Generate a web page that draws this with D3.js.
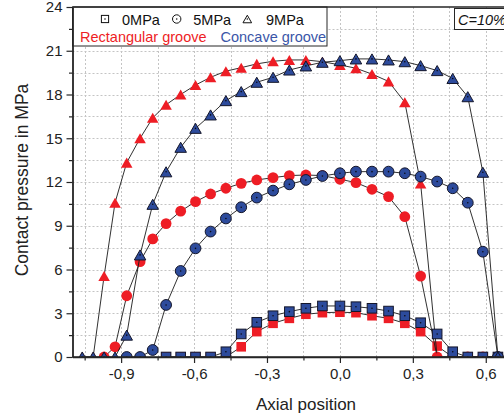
<!DOCTYPE html>
<html><head><meta charset="utf-8">
<script src="https://cdn.jsdelivr.net/npm/d3@7"></script>
<style>body{margin:0;background:#fff}svg{display:block;font-family:"Liberation Sans",Arial,sans-serif}</style>
</head><body><svg id="c" width="504" height="416"></svg>
<script>
const xPos = [-1.06,-1.015,-0.97,-0.925,-0.877,-0.822,-0.77,-0.715,-0.655,-0.594,-0.532,-0.469,-0.406,-0.342,-0.275,-0.208,-0.14,-0.072,0,0.066,0.132,0.2,0.267,0.332,0.4,0.464,0.526,0.588,0.65];
const rect0 = [null,null,null,null,null,null,null,0,0,0,0,0,0.7,1.74,2.31,2.65,2.93,3.04,3.07,3.04,2.83,2.65,2.31,1.74,0.75,0,0,0,0];
const rect5 = [null,null,0,0.7,4.2,6.54,8.1,9.15,10.0,10.65,11.18,11.57,11.91,12.14,12.3,12.44,12.48,12.44,12.19,11.96,11.5,11.0,9.62,5.55,0,0,0,0,0];
const rect9 = [0,0,5.55,10.58,13.33,15.0,16.4,17.3,18.0,18.65,19.18,19.6,19.84,20.1,20.28,20.37,20.37,20.25,20.03,19.8,19.4,18.9,17.47,11.9,0,0,0,0,0];
const conc0 = [null,null,null,null,null,null,null,0,0,0,0,0.36,1.58,2.38,2.83,3.11,3.34,3.5,3.5,3.45,3.34,3.15,2.83,2.35,1.58,0.36,0,0,0];
const conc5 = [null,null,null,null,0,0,0.48,3.57,5.9,7.45,8.6,9.5,10.27,10.93,11.41,11.84,12.14,12.41,12.6,12.71,12.71,12.71,12.6,12.37,12.03,11.57,10.58,7.22,0];
const conc9 = [0,0,0,0,1.5,7.0,10.47,12.7,14.38,15.68,16.6,17.58,18.2,18.84,19.18,19.68,19.96,20.21,20.32,20.44,20.44,20.37,20.25,19.98,19.64,19.1,17.85,12.67,0];
const xTicks = [-0.9,-0.6,-0.3,0,0.3,0.6];
const xTickLabels = ["-0,9","-0,6","-0,3","0,0","0,3","0,6"];
const yTicks = [0,3,6,9,12,15,18,21,24];
const legendLabels = ["0MPa","5MPa","9MPa"];
const grooveLabels = ["Rectangular groove","Concave groove"];

const RED = "#ee1d25", BLUE = "#2d4b9c", AX = "#262626";
const svg = d3.select("#c");
const L = 72.5, T = 7, B = 357;
const x = d3.scaleLinear().domain([-1.1, 0.7]).range([L, L + 1.8*243.1]);
const y = d3.scaleLinear().domain([0, 24]).range([B, T]);
const R = x(0.7);

// grid
const gx = d3.range(-1.05, 0.69, 0.15);
const gy = d3.range(1.5, 23, 1.5);
const grid = svg.append("g").attr("stroke","#c4c4c4").attr("stroke-dasharray","2,2").attr("stroke-width",1);
gx.forEach(v => grid.append("line").attr("x1",Math.round(x(v))+0.5).attr("x2",Math.round(x(v))+0.5).attr("y1",T).attr("y2",B));
gy.forEach(v => grid.append("line").attr("y1",Math.round(y(v))+0.5).attr("y2",Math.round(y(v))+0.5).attr("x1",L).attr("x2",R));

// clip
svg.append("clipPath").attr("id","clp").append("rect").attr("x",L).attr("y",T).attr("width",R-L).attr("height",B-T);
const plot = svg.append("g").attr("clip-path","url(#clp)");

function marker(g, shape, cx, cy, fill, stroke, s, dot) {
  if (shape === "sq") g.append("rect").attr("x",cx-s).attr("y",cy-s).attr("width",2*s).attr("height",2*s).attr("fill",fill).attr("stroke",stroke).attr("stroke-width",stroke==="none"?0:1);
  else if (shape === "ci") g.append("circle").attr("cx",cx).attr("cy",cy).attr("r",s+0.6).attr("fill",fill).attr("stroke",stroke).attr("stroke-width",stroke==="none"?0:1);
  else {
    const w = s*1.2, h = s*1.05;
    g.append("path").attr("d",`M${cx},${cy-h}L${cx+w},${cy+h}L${cx-w},${cy+h}Z`).attr("fill",fill).attr("stroke",stroke).attr("stroke-width",stroke==="none"?0:1).attr("stroke-linejoin","miter");
  }
  if (dot) g.append("circle").attr("cx",cx).attr("cy",cy).attr("r",0.8).attr("fill",dot);
}

const series = [
  {d:rect0, shape:"sq", fill:RED, stroke:"none", dot:null},
  {d:rect5, shape:"ci", fill:RED, stroke:"none", dot:null},
  {d:rect9, shape:"tr", fill:RED, stroke:"none", dot:null},
  {d:conc0, shape:"sq", fill:BLUE, stroke:"#14162a", dot:"#0a0a14"},
  {d:conc5, shape:"ci", fill:BLUE, stroke:"#14162a", dot:"#0a0a14"},
  {d:conc9, shape:"tr", fill:BLUE, stroke:"#14162a", dot:"#0a0a14"}
];
const line = d3.line().defined(p => p[1] != null).x(p => x(p[0])).y(p => y(p[1]));
series.forEach(s => {
  const pts = xPos.map((v,i) => [v, s.d[i]]);
  plot.append("path").attr("d", line(pts)).attr("fill","none").attr("stroke","#1a1a1a").attr("stroke-width",0.9);
  const g = plot.append("g");
  pts.filter(p => p[1] != null).forEach(p => marker(g, s.shape, x(p[0]), y(p[1]), s.fill, s.stroke, 4.8, s.dot));
});

// legend
const lg = svg.append("g");
lg.append("rect").attr("x",L).attr("y",T).attr("width",327-L).attr("height",46-T).attr("fill","#fff").attr("stroke",AX).attr("stroke-width",1);
const symX = [105, 176.7, 247.3], txtX = [122, 193.3, 266];
["sq","ci","tr"].forEach((sh,i) => {
  marker(lg, sh, symX[i], 19, "#fff", "#111", 3.6, "#111");
  lg.append("text").attr("x",txtX[i]).attr("y",24.5).attr("font-size",14.5).attr("fill","#111").text(legendLabels[i]);
});
lg.append("text").attr("x",80).attr("y",41.5).attr("font-size",14.5).attr("fill",RED).text(grooveLabels[0]);
lg.append("text").attr("x",220.5).attr("y",41.5).attr("font-size",14.5).attr("fill","#3a56a8").text(grooveLabels[1]);

// C=10% box
svg.append("rect").attr("x",454.5).attr("y",8.5).attr("width",80).attr("height",21).attr("fill","#fff").attr("stroke",AX).attr("stroke-width",1);
svg.append("text").attr("x",458).attr("y",24.5).attr("font-size",14.5).attr("font-style","italic").attr("fill","#111").text("C=10%");

// axes frame
svg.append("line").attr("x1",L).attr("x2",504).attr("y1",T).attr("y2",T).attr("stroke",AX).attr("stroke-width",1.4);
const xa = svg.append("g").attr("transform",`translate(0,${B})`)
  .call(d3.axisBottom(x).tickValues(xTicks).tickFormat((d,i)=>xTickLabels[i]).tickSize(6).tickPadding(5).tickSizeOuter(0));
const xm = svg.append("g").attr("transform",`translate(0,${B})`)
  .call(d3.axisBottom(x).tickValues(gx.filter(v => xTicks.every(t => Math.abs(t-v)>1e-6))).tickFormat("").tickSize(3.5).tickSizeOuter(0));
const ya = svg.append("g").attr("transform",`translate(${L},0)`)
  .call(d3.axisLeft(y).tickValues(yTicks).tickSize(6).tickPadding(4).tickSizeOuter(0));
const ym = svg.append("g").attr("transform",`translate(${L},0)`)
  .call(d3.axisLeft(y).tickValues(gy.filter(v => v % 3 !== 0)).tickFormat("").tickSize(3.5).tickSizeOuter(0));
[xa,xm,ya,ym].forEach(a => {
  a.selectAll("path.domain").attr("stroke",AX).attr("stroke-width",1.4);
  a.selectAll(".tick line").attr("stroke",AX).attr("stroke-width",1.2);
  a.selectAll("text").attr("font-size",15).attr("fill","#222").attr("font-family","'Liberation Sans',Arial,sans-serif");
});
xa.selectAll("path.domain").attr("d",`M${L},0H504`);

// titles
svg.append("text").attr("x",306).attr("y",410).attr("text-anchor","middle").attr("font-size",17).attr("fill","#222").text("Axial position");
svg.append("text").attr("transform","translate(28,180) rotate(-90)").attr("text-anchor","middle").attr("font-size",17.5).attr("fill","#222").text("Contact pressure in MPa");
</script></body></html>
